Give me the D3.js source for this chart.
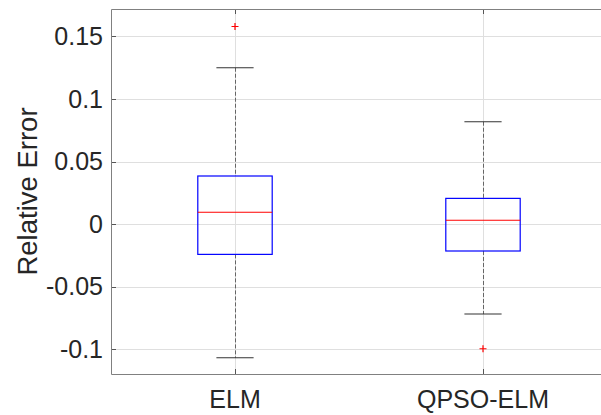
<!DOCTYPE html>
<html>
<head>
<meta charset="utf-8">
<script src="https://cdn.jsdelivr.net/npm/d3@7"></script>
<style>
  body { margin: 0; background: #fff; }
  svg { display: block; font-family: "Liberation Sans", Arial, sans-serif; }
</style>
</head>
<body>
<div id="chart-area"></div>
<script>
// box statistics
var categories = ["ELM", "QPSO-ELM"];
var whiskerLow  = [-0.107, -0.072];
var boxLow      = [-0.0243, -0.0216];
var medians     = [0.0094, 0.003];
var boxHigh     = [0.0384, 0.0205];
var whiskerHigh = [0.125, 0.0818];
var outliers    = [[0.158], [-0.0998]];
var yTicks = [-0.1, -0.05, 0, 0.05, 0.1, 0.15];
var yTickLabels = ["-0.1", "-0.05", "0", "0.05", "0.1", "0.15"];

var width = 601, height = 415;
var plotLeft = 111, plotRight = 607, plotTop = 9, plotBottom = 374;

var svg = d3.select("#chart-area").append("svg")
    .attr("width", width)
    .attr("height", height);

var x = d3.scaleLinear().domain([0.5, 2.5]).range([plotLeft, plotRight]);
var y = d3.scaleLinear().domain([-0.12, 0.172]).range([plotBottom, plotTop]);

var boxHalf = x(1.15) - x(1);
var capHalf = x(1.075) - x(1);

var data = categories.map((c, i) => ({
    name: c, pos: i + 1,
    wlo: whiskerLow[i], q1: boxLow[i], med: medians[i], q3: boxHigh[i],
    whi: whiskerHigh[i], out: outliers[i]
}));

var px = (v) => Math.round(v) + 0.5;

// grid
var grid = svg.append("g").attr("stroke", "#dfdfdf").attr("stroke-width", 1);
grid.selectAll(".gy").data(yTicks).enter().append("line")
    .attr("x1", plotLeft).attr("x2", plotRight)
    .attr("y1", (d) => px(y(d))).attr("y2", (d) => px(y(d)));
grid.selectAll(".gx").data(data).enter().append("line")
    .attr("y1", plotTop).attr("y2", plotBottom)
    .attr("x1", (d) => px(x(d.pos))).attr("x2", (d) => px(x(d.pos)));

// ticks pointing inward
var ticks = svg.append("g").attr("stroke", "#555").attr("stroke-width", 1);
ticks.selectAll(".ty").data(yTicks).enter().append("line")
    .attr("x1", plotLeft).attr("x2", plotLeft + 5)
    .attr("y1", (d) => px(y(d))).attr("y2", (d) => px(y(d)));
ticks.selectAll(".tb").data(data).enter().append("line")
    .attr("x1", (d) => px(x(d.pos))).attr("x2", (d) => px(x(d.pos)))
    .attr("y1", plotBottom).attr("y2", plotBottom - 5);
ticks.selectAll(".tt").data(data).enter().append("line")
    .attr("x1", (d) => px(x(d.pos))).attr("x2", (d) => px(x(d.pos)))
    .attr("y1", plotTop).attr("y2", plotTop + 5);

svg.append("path")
    .attr("d", "M" + plotRight + "," + (plotTop + 0.5) + "H" + (plotLeft + 0.5) + "V" + (plotBottom + 0.5) + "H" + plotRight)
    .attr("fill", "none")
    .attr("stroke", "#808080")
    .attr("stroke-width", 1);

// tick labels
svg.selectAll(".ylab").data(yTicks).enter().append("text")
    .attr("x", 103)
    .attr("y", (d) => y(d))
    .attr("dy", "0.35em")
    .attr("text-anchor", "end")
    .attr("font-size", 25)
    .attr("fill", "#262626")
    .text((d, i) => yTickLabels[i]);

svg.selectAll(".xlab").data(data).enter().append("text")
    .attr("x", (d) => x(d.pos))
    .attr("y", 408)
    .attr("text-anchor", "middle")
    .attr("font-size", 25)
    .attr("fill", "#262626")
    .text((d) => d.name);

svg.append("text")
    .attr("transform", "translate(37," + ((plotTop + plotBottom) / 2) + ") rotate(-90)")
    .attr("text-anchor", "middle")
    .attr("font-size", 27.5)
    .attr("fill", "#262626")
    .text("Relative Error");

// boxes
var boxes = svg.selectAll(".box").data(data).enter().append("g");

boxes.append("line")
    .attr("x1", (d) => px(x(d.pos))).attr("x2", (d) => px(x(d.pos)))
    .attr("y1", (d) => y(d.whi)).attr("y2", (d) => y(d.q3))
    .attr("stroke", "#666").attr("stroke-dasharray", "4,2");
boxes.append("line")
    .attr("x1", (d) => px(x(d.pos))).attr("x2", (d) => px(x(d.pos)))
    .attr("y1", (d) => y(d.q1)).attr("y2", (d) => y(d.wlo))
    .attr("stroke", "#666").attr("stroke-dasharray", "4,2");

boxes.selectAll(".cap").data((d) => [d.whi, d.wlo].map((v) => ({ pos: d.pos, v: v })))
  .enter().append("line")
    .attr("x1", (d) => x(d.pos) - capHalf).attr("x2", (d) => x(d.pos) + capHalf)
    .attr("y1", (d) => y(d.v)).attr("y2", (d) => y(d.v))
    .attr("stroke", "#333").attr("stroke-width", 1.2);

boxes.append("rect")
    .attr("x", (d) => x(d.pos) - boxHalf)
    .attr("width", 2 * boxHalf)
    .attr("y", (d) => y(d.q3))
    .attr("height", (d) => y(d.q1) - y(d.q3))
    .attr("fill", "none")
    .attr("stroke", "#0000ff")
    .attr("stroke-width", 1.2);

boxes.append("line")
    .attr("x1", (d) => x(d.pos) - boxHalf).attr("x2", (d) => x(d.pos) + boxHalf)
    .attr("y1", (d) => y(d.med)).attr("y2", (d) => y(d.med))
    .attr("stroke", "#ff0000").attr("stroke-width", 1.2);

boxes.selectAll(".out").data((d) => d.out.map((v) => ({ pos: d.pos, v: v })))
  .enter().append("path")
    .attr("d", (d) => {
        var cx = x(d.pos), cy = y(d.v);
        return "M" + (cx - 3.5) + "," + cy + "H" + (cx + 3.5) + "M" + cx + "," + (cy - 3.5) + "V" + (cy + 3.5);
    })
    .attr("stroke", "#ff0000").attr("stroke-width", 1.2);
</script>
</body>
</html>
